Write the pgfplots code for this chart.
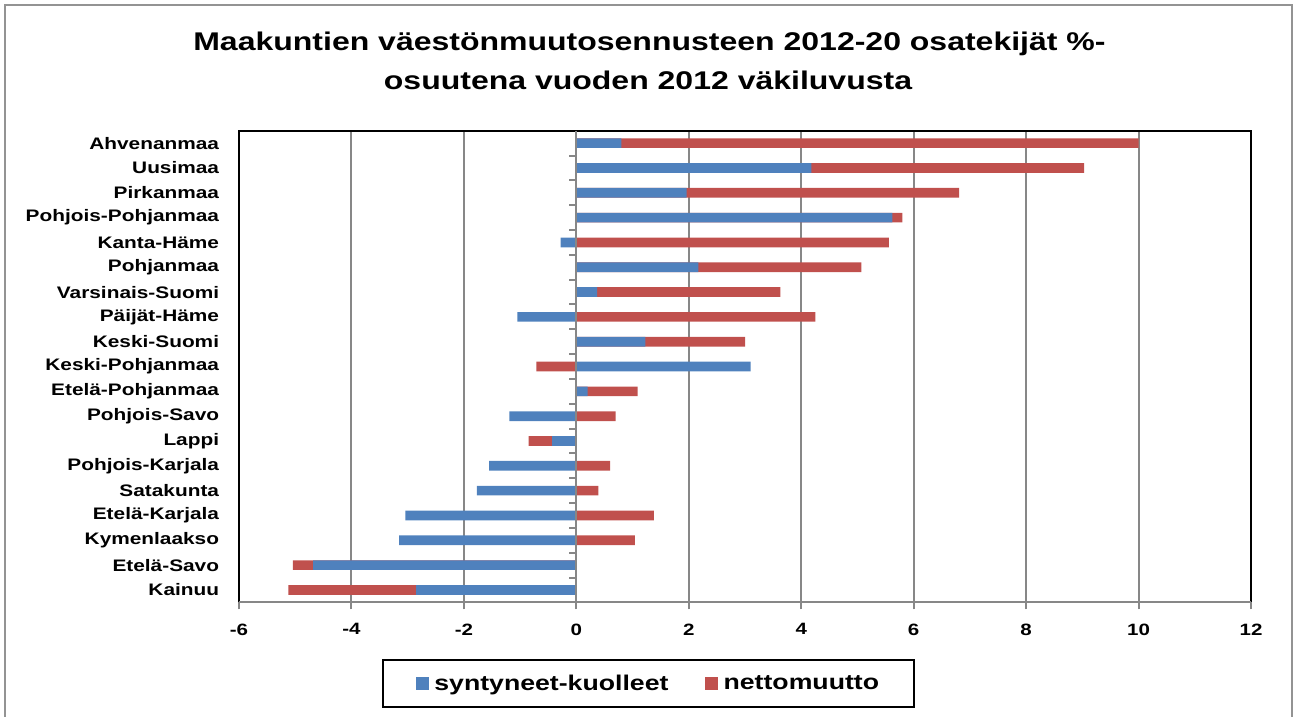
\documentclass[border=0pt]{standalone}
\usepackage{fontspec}
\setmainfont{Liberation Sans}[FakeStretch=1.25]
\usepackage{pgfplots}
\usepackage{pgfplotstable}
\pgfplotsset{compat=1.18}
\definecolor{c1}{HTML}{4F81BD}
\definecolor{c2}{HTML}{C0504D}
\definecolor{axgray}{HTML}{878787}
\pgfplotstableread{
idx blue redend
0 0.80 10.00
1 4.18 9.03
2 1.96 6.81
3 5.62 5.80
4 -0.28 5.56
5 2.17 5.07
6 0.37 3.63
7 -1.05 4.25
8 1.23 3.00
9 3.10 -0.71
10 0.20 1.09
11 -1.19 0.70
12 -0.43 -0.85
13 -1.55 0.60
14 -1.77 0.39
15 -3.04 1.38
16 -3.15 1.04
17 -4.68 -5.04
18 -2.85 -5.12
}\data
\begin{document}
\begin{tikzpicture}
\useasboundingbox (0,0) rectangle (971.25pt,537.75pt);
\draw[axgray!90, line width=1.5pt] (3.75pt,-10pt) -- (3.75pt,534pt) -- (968.8pt,534pt) -- (968.8pt,-10pt);
\node[anchor=base, font=\bfseries\fontsize{19.2}{23}\selectfont] at (487.1pt,499.5pt) {Maakuntien väestönmuutosennusteen 2012-20 osatekijät \%-};
\node[anchor=base, font=\bfseries\fontsize{19.2}{23}\selectfont] at (486pt,470.25pt) {osuutena vuoden 2012 väkiluvusta};
\begin{axis}[
  at={(179.25pt,86pt)}, anchor=south west,
  scale only axis, width=759pt, height=353.7pt,
  xmin=-6, xmax=12, ymin=-0.5, ymax=18.5, y dir=reverse,
  clip=false,
  axis line style={draw=none},
  xtick={-6,-4,...,12},
  xticklabels={-6,-4,-2,0,2,4,6,8,10,12},
  xmajorgrids, grid style={axgray, line width=1.5pt},
  xtick pos=bottom,
  tick align=outside,
  xtick style={axgray, line width=1.5pt},
  major tick length=5.25pt,
  ytick={0,...,18},
  yticklabels={Ahvenanmaa,Uusimaa,Pirkanmaa,Pohjois-Pohjanmaa,Kanta-Häme,Pohjanmaa,Varsinais-Suomi,Päijät-Häme,Keski-Suomi,Keski-Pohjanmaa,Etelä-Pohjanmaa,Pohjois-Savo,Lappi,Pohjois-Karjala,Satakunta,Etelä-Karjala,Kymenlaakso,Etelä-Savo,Kainuu},
  ytick style={draw=none},
  xticklabel style={font=\bfseries\fontsize{12.3}{14}\selectfont, inner sep=0pt, anchor=north, yshift=-10.5pt},
  yticklabel style={font=\bfseries\fontsize{12.5}{15}\selectfont, inner sep=0pt, anchor=east, xshift=-9.5pt},
  legend image code/.code={\fill[#1] (0pt,-4.875pt) rectangle (9.75pt,4.875pt); \path (11.8pt,0pt);},
  legend columns=2,
  legend style={at={(axis description cs:0.405,-0.172)}, anchor=center, draw=black, line width=1.5pt,
    font=\bfseries\fontsize{16}{19}\selectfont, inner xsep=24.5pt, inner ysep=9pt,
    cells={anchor=west},
    /tikz/every even column/.append style={column sep=25.5pt}},
]
\addplot[xbar, bar width=0.39, bar shift=0pt, fill=c2, draw=none, forget plot] table[x=redend, y=idx] {\data};
\addplot[xbar, bar width=0.39, bar shift=0pt, fill=c1, draw=none, forget plot] table[x=blue, y=idx] {\data};
\addlegendimage{fill=c1, draw=none}
\addlegendentry{syntyneet-kuolleet}
\addlegendimage{fill=c2, draw=none}
\addlegendentry{nettomuutto}
\draw[black, line width=1.5pt] (axis description cs:0,0) -- (axis description cs:0,1) -- (axis description cs:1,1) -- (axis description cs:1,0);
\draw[axgray, line width=1.5pt] (axis description cs:0,0) -- (axis description cs:1,0);
\draw[axgray, line width=1.5pt] (axis cs:0,-0.5) -- (axis cs:0,18.5);
\pgfplotsinvokeforeach{0.5,1.5,...,18.5}{\draw[axgray, line width=1.5pt] (axis cs:0,#1) -- ++(-5.25pt,0pt);}
\end{axis}
\end{tikzpicture}
\end{document}
